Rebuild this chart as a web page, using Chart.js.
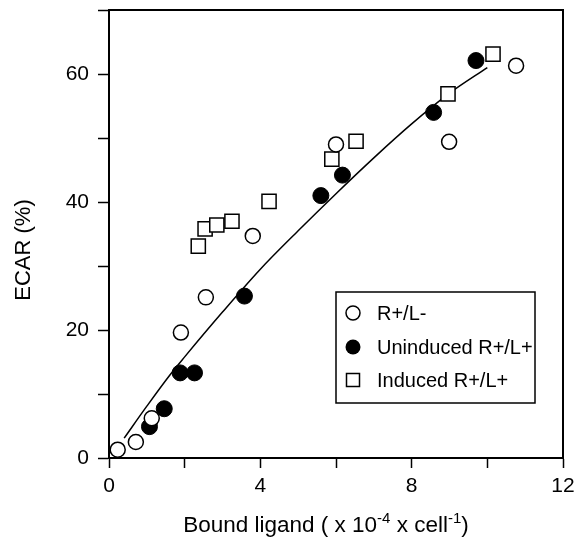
<!DOCTYPE html>
<html>
<head>
<meta charset="utf-8">
<script src="https://cdn.jsdelivr.net/npm/chart.js@4.4.1/dist/chart.umd.min.js"></script>
<style>
  html, body { margin: 0; padding: 0; background: #fff; }
  #wrap { width: 578px; height: 540px; }
</style>
</head>
<body>
<div id="wrap"><canvas id="chart" width="578" height="540"></canvas></div>
<script>
// datos
const rlMinusX = [0.23, 0.71, 1.13, 1.90, 2.56, 3.80, 6.00, 8.99, 10.76];
const rlMinusY = [1.3, 2.5, 6.2, 19.6, 25.1, 34.7, 49.0, 49.4, 61.3];

const uninducedX = [1.07, 1.46, 1.88, 2.26, 3.58, 5.60, 6.17, 8.58, 9.70];
const uninducedY = [4.9, 7.7, 13.3, 13.3, 25.3, 41.0, 44.2, 54.0, 62.1];

const inducedX = [2.36, 2.54, 2.85, 3.25, 4.23, 5.89, 6.53, 8.96, 10.15];
const inducedY = [33.1, 35.8, 36.4, 37.0, 40.1, 46.7, 49.5, 56.9, 63.1];

// curva ajustada (leida punto a punto)
const fitX = [0.4, 1.0, 1.6, 2.0, 3.0, 4.0, 5.0, 6.0, 7.0, 8.0, 9.0, 10.0];
const fitY = [3.1, 8.1, 12.9, 15.8, 22.8, 29.5, 35.5, 41.3, 46.9, 52.2, 57.0, 61.0];

const xTickLabels = [0, 4, 8, 12];
const yTickLabels = [0, 20, 40, 60];

const legendLabels = ["R+/L-", "Uninduced R+/L+", "Induced R+/L+"];

const FONT = "'Liberation Sans', Arial, Helvetica, sans-serif";
const pts = (xs, ys) => xs.map((x, i) => ({ x, y: ys[i] }));

// marco completo alrededor del area
const framePlugin = {
  id: "frame",
  afterDatasetsDraw(chart) {
    const { ctx, chartArea: a } = chart;
    ctx.save();
    ctx.strokeStyle = "#000";
    ctx.lineWidth = 2;
    ctx.strokeRect(a.left, a.top, a.right - a.left, a.bottom - a.top);
    ctx.restore();
  }
};

// titulos de ejes (con superindices)
const titlesPlugin = {
  id: "titles",
  afterDraw(chart) {
    const { ctx, chartArea: a } = chart;
    ctx.save();
    ctx.fillStyle = "#000";

    // eje y
    ctx.font = "22px " + FONT;
    ctx.textAlign = "center";
    ctx.textBaseline = "middle";
    ctx.translate(a.left - 85, 250);
    ctx.rotate(-Math.PI / 2);
    ctx.fillText("ECAR (%)", 0, 0);
    ctx.setTransform(1, 0, 0, 1, 0, 0);

    // eje x
    const parts = [
      { t: "Bound ligand ( x 10", sup: false },
      { t: "-4", sup: true },
      { t: " x cell", sup: false },
      { t: "-1", sup: true },
      { t: ")", sup: false }
    ];
    const big = "22.5px " + FONT, small = "15px " + FONT;
    let total = 0;
    parts.forEach(p => { ctx.font = p.sup ? small : big; p.w = ctx.measureText(p.t).width; total += p.w; });
    let x = 326 - total / 2;
    const base = 532;
    ctx.textAlign = "left";
    ctx.textBaseline = "alphabetic";
    parts.forEach(p => {
      ctx.font = p.sup ? small : big;
      ctx.fillText(p.t, x, p.sup ? base - 9 : base);
      x += p.w;
    });
    ctx.restore();
  }
};

// leyenda dentro del area
const legendPlugin = {
  id: "legendBox",
  afterDraw(chart) {
    const { ctx } = chart;
    ctx.save();
    ctx.strokeStyle = "#000";
    ctx.lineWidth = 1.5;
    ctx.fillStyle = "#fff";
    ctx.fillRect(336, 292, 199, 111);
    ctx.strokeRect(336, 292, 199, 111);

    const rows = [313, 347, 380];
    const mx = 353;
    // circulo abierto
    ctx.beginPath();
    ctx.arc(mx, rows[0], 7, 0, Math.PI * 2);
    ctx.fillStyle = "#fff";
    ctx.fill();
    ctx.stroke();
    // circulo lleno
    ctx.beginPath();
    ctx.arc(mx, rows[1], 7.5, 0, Math.PI * 2);
    ctx.fillStyle = "#000";
    ctx.fill();
    // cuadrado
    ctx.strokeRect(mx - 6.5, rows[2] - 6.5, 13, 13);

    ctx.fillStyle = "#000";
    ctx.font = "20px " + FONT;
    ctx.textAlign = "left";
    ctx.textBaseline = "middle";
    legendLabels.forEach((l, i) => ctx.fillText(l, 377, rows[i] + 1));
    ctx.restore();
  }
};

const ctx = document.getElementById("chart").getContext("2d");
new Chart(ctx, {
  type: "scatter",
  data: {
    datasets: [
      {
        label: legendLabels[0],
        data: pts(rlMinusX, rlMinusY),
        pointStyle: "circle",
        pointRadius: 7.5,
        pointBackgroundColor: "#fff",
        pointBorderColor: "#000",
        pointBorderWidth: 1.5,
        clip: false
      },
      {
        label: legendLabels[1],
        data: pts(uninducedX, uninducedY),
        pointStyle: "circle",
        pointRadius: 8,
        pointBackgroundColor: "#000",
        pointBorderColor: "#000",
        pointBorderWidth: 1,
        clip: false
      },
      {
        label: legendLabels[2],
        data: pts(inducedX, inducedY),
        pointStyle: "rect",
        pointRadius: 10,
        pointBackgroundColor: "#fff",
        pointBorderColor: "#000",
        pointBorderWidth: 1.5,
        clip: false
      },
      {
        type: "line",
        label: "fit",
        data: pts(fitX, fitY),
        showLine: true,
        borderColor: "#000",
        borderWidth: 1.5,
        pointRadius: 0,
        cubicInterpolationMode: "monotone",
        fill: false,
        order: 10
      }
    ]
  },
  options: {
    responsive: false,
    animation: false,
    layout: { autoPadding: false, padding: { left: 0, right: 15, top: 10, bottom: 0 } },
    plugins: {
      legend: { display: false },
      tooltip: { enabled: false }
    },
    scales: {
      x: {
        type: "linear",
        min: 0,
        max: 12,
        afterFit: s => { s.height = 82; s.paddingLeft = 0; s.paddingRight = 0; },
        ticks: {
          stepSize: 2,
          color: "#000",
          font: { family: FONT, size: 21 },
          padding: 6,
          maxRotation: 0,
          callback: v => xTickLabels.includes(v) ? String(v) : ""
        },
        grid: {
          drawOnChartArea: false,
          drawTicks: true,
          tickLength: 10,
          tickColor: "#000",
          tickWidth: 1.5
        },
        border: { display: true, color: "#000", width: 2 }
      },
      y: {
        type: "linear",
        min: 0,
        max: 70,
        afterFit: s => { s.width = 109; s.paddingTop = 0; s.paddingBottom = 0; },
        ticks: {
          stepSize: 10,
          color: "#000",
          font: { family: FONT, size: 21 },
          padding: 9,
          callback: v => yTickLabels.includes(v) ? String(v) : ""
        },
        grid: {
          drawOnChartArea: false,
          drawTicks: true,
          tickLength: 11,
          tickColor: "#000",
          tickWidth: 1.5
        },
        border: { display: true, color: "#000", width: 2 }
      }
    }
  },
  plugins: [framePlugin, titlesPlugin, legendPlugin]
});
</script>
</body>
</html>
